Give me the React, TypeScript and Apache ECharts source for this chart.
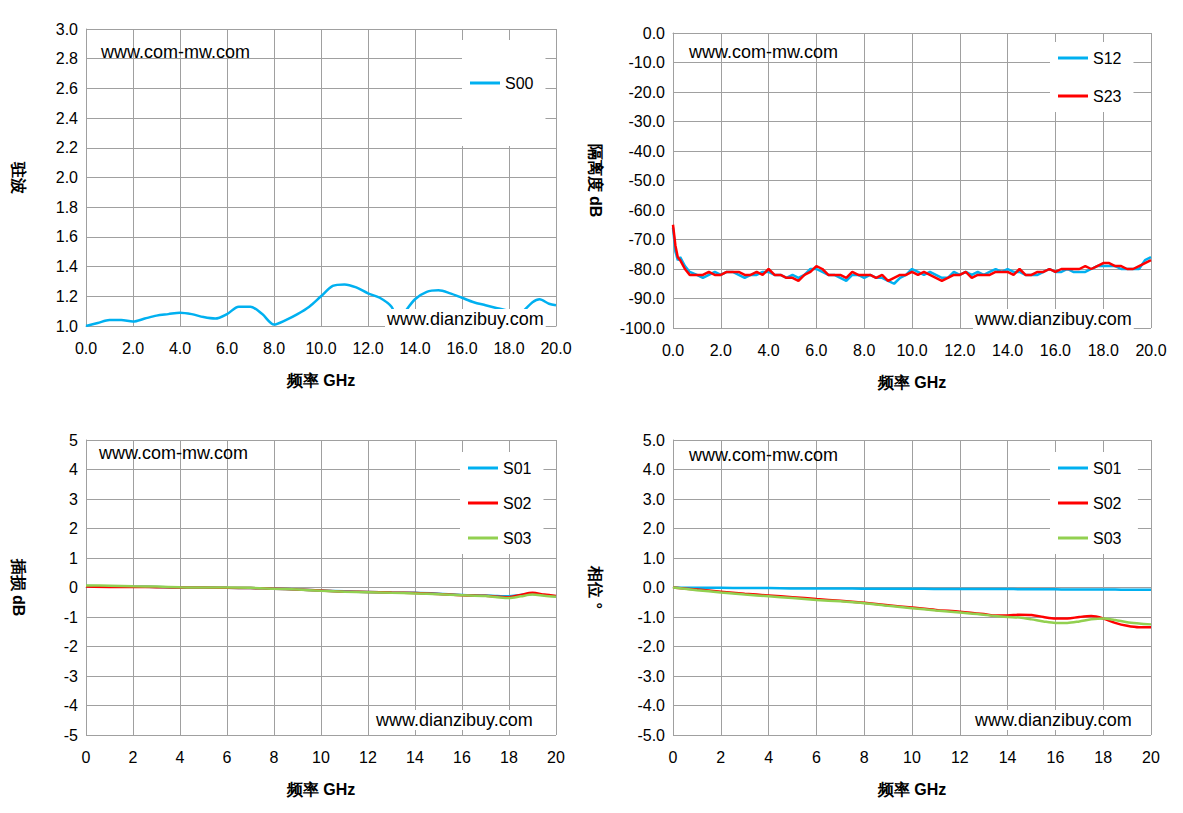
import React, { useEffect, useRef } from "react";
import * as echarts from "echarts";

const vswrF = [0,0.5,1,1.5,2,2.5,3,3.5,4,4.5,5,5.5,6,6.5,7,7.5,8,8.5,9,9.5,10,10.5,11,11.5,12,12.5,13,13.3,13.6,14,14.5,15,15.5,16,16.5,17,17.5,18,18.3,18.6,19,19.3,19.7,20];
const s00 = [1.0,1.02,1.04,1.04,1.03,1.05,1.07,1.08,1.09,1.08,1.06,1.05,1.08,1.13,1.13,1.08,1.01,1.04,1.08,1.13,1.2,1.27,1.28,1.26,1.22,1.19,1.13,1.03,1.1,1.18,1.23,1.24,1.22,1.19,1.16,1.14,1.12,1.1,1.07,1.1,1.16,1.18,1.15,1.14];

const isoF = [0,0.1,0.2,0.3,0.5,0.7,1,1.25,1.5,1.75,2,2.25,2.5,2.75,3,3.25,3.5,3.75,4,4.25,4.5,4.75,5,5.25,5.5,5.75,6,6.25,6.5,6.75,7,7.25,7.5,7.75,8,8.25,8.5,8.75,9,9.25,9.5,9.75,10,10.25,10.5,10.75,11,11.25,11.5,11.75,12,12.25,12.5,12.75,13,13.25,13.5,13.75,14,14.25,14.5,14.75,15,15.25,15.5,15.75,16,16.25,16.5,16.75,17,17.25,17.5,17.75,18,18.25,18.5,18.75,19,19.25,19.5,19.75,20];
const s12 = [-66,-74,-77,-76,-79,-81,-82,-83,-82,-81,-82,-81,-81,-82,-83,-82,-82,-81,-81,-82,-82,-83,-82,-83,-82,-80,-80,-81,-82,-82,-83,-84,-82,-82,-83,-82,-83,-83,-84,-85,-83,-82,-80,-81,-82,-81,-82,-83,-83,-81,-82,-81,-82,-81,-82,-81,-80,-81,-80,-81,-81,-82,-82,-82,-81,-80,-81,-81,-80,-81,-81,-81,-80,-79,-79,-79,-79,-80,-80,-80,-80,-77,-76];
const s23 = [-65,-72,-76,-77,-80,-82,-82,-82,-81,-82,-82,-81,-81,-81,-82,-82,-81,-82,-80,-82,-82,-83,-83,-84,-82,-81,-79,-80,-82,-82,-82,-83,-81,-82,-82,-82,-83,-82,-84,-83,-82,-82,-81,-82,-81,-82,-83,-84,-83,-82,-82,-81,-83,-82,-82,-82,-81,-81,-81,-82,-80,-82,-82,-81,-81,-80,-81,-80,-80,-80,-80,-79,-80,-79,-78,-78,-79,-79,-80,-80,-79,-78,-77];

const lossF = [0,1,2,3,4,5,6,7,8,9,10,11,12,13,14,15,16,17,17.5,18,18.5,19,19.5,20];
const l01 = [0.05,0.04,0.03,0.02,0,0,-0.01,-0.02,-0.04,-0.07,-0.1,-0.13,-0.15,-0.17,-0.18,-0.21,-0.25,-0.27,-0.29,-0.3,-0.25,-0.22,-0.26,-0.3];
const l02 = [0.03,0.02,0.02,0.01,0,0,-0.01,-0.02,-0.04,-0.07,-0.1,-0.14,-0.15,-0.17,-0.19,-0.22,-0.26,-0.28,-0.31,-0.33,-0.25,-0.18,-0.24,-0.29];
const l03 = [0.07,0.06,0.04,0.03,0.01,0,0,-0.01,-0.04,-0.07,-0.11,-0.14,-0.16,-0.18,-0.2,-0.23,-0.26,-0.29,-0.33,-0.36,-0.3,-0.24,-0.28,-0.31];

const phF = [0,1,2,3,4,5,6,7,8,9,10,11,12,13,13.5,14,14.5,15,15.5,16,16.5,17,17.5,18,18.5,19,19.5,20];
const p01 = [0,-0.01,-0.01,-0.02,-0.02,-0.03,-0.03,-0.03,-0.04,-0.04,-0.04,-0.05,-0.05,-0.05,-0.05,-0.05,-0.06,-0.06,-0.06,-0.06,-0.07,-0.07,-0.07,-0.07,-0.07,-0.08,-0.08,-0.08];
const p02 = [0,-0.07,-0.14,-0.21,-0.27,-0.33,-0.39,-0.45,-0.52,-0.6,-0.68,-0.76,-0.82,-0.9,-0.95,-0.95,-0.92,-0.93,-1.0,-1.05,-1.05,-1.0,-0.97,-1.05,-1.2,-1.3,-1.35,-1.35];
const p03 = [0,-0.09,-0.17,-0.24,-0.3,-0.36,-0.42,-0.47,-0.53,-0.62,-0.7,-0.78,-0.85,-0.92,-0.97,-1.0,-1.02,-1.08,-1.15,-1.2,-1.2,-1.15,-1.08,-1.05,-1.1,-1.18,-1.22,-1.25];

const BLUE = "#00b0f0", RED = "#ff0000", GREEN = "#92d050";
const FONT = "Liberation Sans";
const zip = (xs: number[], ys: number[]) => xs.map((x, i) => [x, ys[i]]);

export default function App() {
  const ref = useRef<HTMLDivElement>(null);
  useEffect(() => {
    const chart = echarts.init(ref.current!, undefined, { renderer: "svg" });
    const grids = [
      { left: 78, top: 21, width: 470, height: 297 },
      { left: 665, top: 25, width: 478, height: 295 },
      { left: 78, top: 432, width: 470, height: 295 },
      { left: 665, top: 432, width: 478, height: 295 },
    ];
    const split = { show: true, lineStyle: { color: "#a0a0a0", width: 1 } };
    const axLine = { show: true, lineStyle: { color: "#a0a0a0" } };
    const lbl = { color: "#000", fontSize: 16, fontFamily: FONT };
    const xName = { fontSize: 16, fontWeight: "bold", color: "#000", fontFamily: FONT };
    const mkX = (i: number, dec: boolean) => ({
      type: "value", gridIndex: i, min: 0, max: 20, interval: 2,
      name: "频率 GHz", nameLocation: "middle", nameGap: 46, nameTextStyle: xName,
      axisLine: axLine, axisTick: { show: false }, splitLine: split,
      axisLabel: { ...lbl, margin: 14, formatter: (v: number) => dec ? v.toFixed(1) : String(v) },
    });
    const mkY = (i: number, min: number, max: number, iv: number, dec: boolean, name: string, gap: number) => ({
      type: "value", gridIndex: i, min, max, interval: iv,
      name, nameLocation: "middle", nameRotate: -90, nameGap: gap, nameTextStyle: xName,
      axisLine: axLine, axisTick: { show: false }, splitLine: split,
      axisLabel: { ...lbl, formatter: (v: number) => dec ? v.toFixed(1) : String(v) },
    });
    const line = (name: string, xi: number, data: any, color: string) => ({
      type: "line", name, xAxisIndex: xi, yAxisIndex: xi, data, showSymbol: false,
      smooth: xi === 1 ? false : 0.3, lineStyle: { color, width: 2.5 }, itemStyle: { color },
    });
    const legendBase = {
      orient: "vertical", itemWidth: 30, itemHeight: 3, itemGap: 20, icon: "rect",
      textStyle: { fontSize: 16, fontFamily: FONT, color: "#000" }, backgroundColor: "#fff", padding: [8, 12, 8, 8],
    };
    const wm = (x: number, y: number, t: string, bg = false) => ({
      type: "text", x, y, z: 100,
      style: { text: t, fontSize: 18, fontFamily: FONT, fill: "#000", backgroundColor: bg ? "#fff" : undefined, padding: bg ? [1, 2] : 0 },
    });
    chart.setOption({
      animation: false,
      backgroundColor: "#fff",
      grid: grids,
      xAxis: [mkX(0, true), mkX(1, true), mkX(2, false), mkX(3, false)],
      yAxis: [
        mkY(0, 1, 3, 0.2, true, "驻波", 60),
        mkY(1, -100, 0, 10, true, "隔离度 dB", 70),
        mkY(2, -5, 5, 1, false, "插损 dB", 60),
        mkY(3, -5, 5, 1, true, "相位 °", 70),
      ],
      legend: [
        { ...legendBase, data: ["S00"], left: 454, top: 32, padding: [35, 12, 55, 8] },
        { ...legendBase, data: ["S12", "S23"], left: 1042, top: 34, itemGap: 22 },
        { ...legendBase, data: ["S01", "S02", "S03"], left: 452, top: 444, itemGap: 19 },
        { ...legendBase, data: ["S01 ", "S02 ", "S03 "], left: 1042, top: 444, itemGap: 19 },
      ],
      series: [
        line("S00", 0, zip(vswrF, s00), BLUE),
        line("S12", 1, zip(isoF, s12), BLUE),
        line("S23", 1, zip(isoF, s23), RED),
        line("S01", 2, zip(lossF, l01), BLUE),
        line("S02", 2, zip(lossF, l02), RED),
        line("S03", 2, zip(lossF, l03), GREEN),
        line("S01 ", 3, zip(phF, p01), BLUE),
        line("S02 ", 3, zip(phF, p02), RED),
        line("S03 ", 3, zip(phF, p03), GREEN),
      ],
      graphic: [
        wm(93, 35, "www.com-mw.com"),
        wm(681, 35, "www.com-mw.com"),
        wm(91, 436, "www.com-mw.com"),
        wm(681, 438, "www.com-mw.com"),
        wm(377, 301, "www.dianzibuy.com", true),
        wm(965, 301, "www.dianzibuy.com", true),
        wm(366, 702, "www.dianzibuy.com", true),
        wm(965, 702, "www.dianzibuy.com", true),
      ],
    });
    return () => chart.dispose();
  }, []);
  return <div ref={ref} style={{ width: 1167, height: 797 }} />;
}
